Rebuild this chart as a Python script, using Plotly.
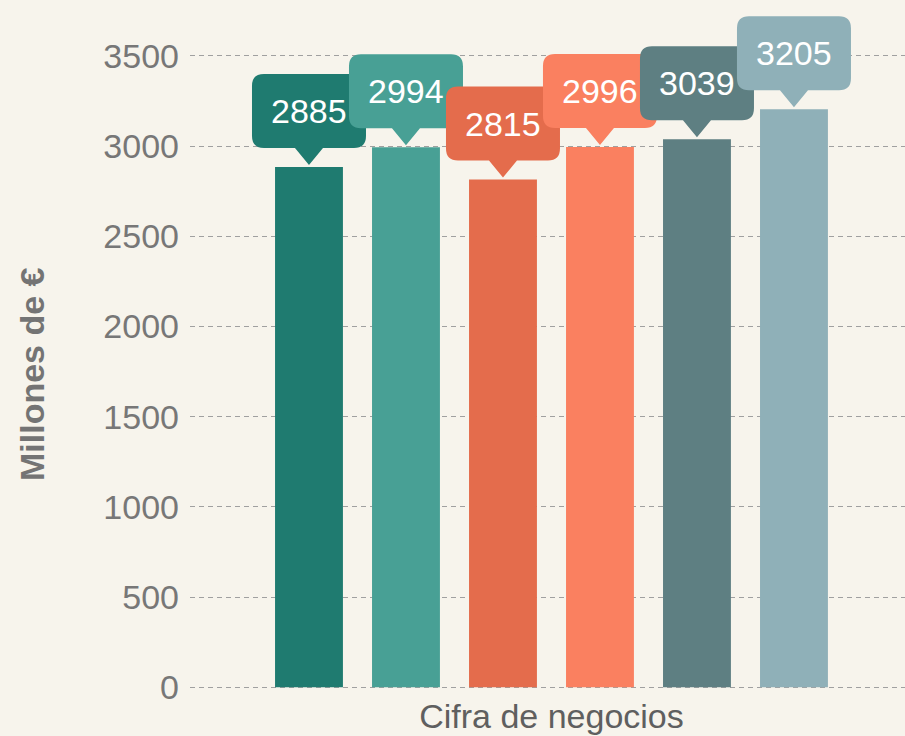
import plotly.graph_objects as go

# Turnover per period, in millions of euros
category = ["Cifra de negocios"]
values = [2885, 2994, 2815, 2996, 3039, 3205]
series_names = ["2885", "2994", "2815", "2996", "3039", "3205"]
colors = ["#1f7b70", "#48a095", "#e46c4c", "#fa8060", "#5e7f82", "#8fb0b8"]

BG = "#f7f4ec"
FONT = "Liberation Sans, Arial, sans-serif"
BARGAP = 0.195
BARGROUPGAP = 0.3

fig = go.Figure()
for name, v, c in zip(series_names, values, colors):
    fig.add_trace(go.Bar(x=category, y=[v], name=name, marker=dict(color=c, line=dict(width=0)),
                         hoverinfo="y"))

# Callout bubbles above each bar (pixel-sized path anchored at the bar top)
n = len(values)
slot = (1 - BARGAP) / n
W, H, R, PH, PW, LIFT = 114, 74, 12, 17, 14, 2
base = LIFT + PH
top = base + H
hw = W / 2
path = (
    f"M0,{LIFT} L{PW},{base} L{hw - R},{base} Q{hw},{base} {hw},{base + R} "
    f"L{hw},{top - R} Q{hw},{top} {hw - R},{top} L{-hw + R},{top} "
    f"Q{-hw},{top} {-hw},{top - R} L{-hw},{base + R} Q{-hw},{base} {-hw + R},{base} "
    f"L{-PW},{base} Z"
)
shapes = []
annotations = []
for i, (v, c) in enumerate(zip(values, colors)):
    xc = -(1 - BARGAP) / 2 + slot * (i + 0.5)
    shapes.append(dict(type="path", xref="x", yref="y", xsizemode="pixel", ysizemode="pixel",
                       xanchor=xc, yanchor=v, path=path, fillcolor=c,
                       line=dict(width=0), layer="above"))
    annotations.append(dict(x=xc, y=v, xref="x", yref="y", text=str(v), showarrow=False,
                            yshift=base + H / 2, font=dict(family=FONT, size=34, color="white")))

plot_left, plot_right = 190, 905
plot_top, plot_bottom = 10, 690

# Vertical axis title
annotations.append(dict(x=(32 - plot_left) / (plot_right - plot_left),
                        y=(plot_bottom - 374) / (plot_bottom - plot_top),
                        xref="paper", yref="paper", text="<b>Millones de €</b>",
                        showarrow=False, textangle=-90, xanchor="center", yanchor="middle",
                        font=dict(family=FONT, size=34, color="#747474")))

fig.update_layout(
    width=905, height=736,
    margin=dict(l=plot_left, r=905 - plot_right, t=plot_top, b=736 - plot_bottom),
    paper_bgcolor=BG, plot_bgcolor=BG,
    barmode="group", bargap=BARGAP, bargroupgap=BARGROUPGAP,
    showlegend=False,
    shapes=shapes, annotations=annotations,
    font=dict(family=FONT, color="#6b6b6b"),
)
fig.update_xaxes(type="category", range=[-0.5, 0.489], showgrid=False, showline=False,
                 ticks="", tickfont=dict(size=34, color="#5f5f5f"), ticklabelstandoff=3,
                 fixedrange=True)
fig.update_yaxes(range=[-15, 3755], tick0=0, dtick=500, showgrid=True, gridcolor="#a0a0a0",
                 gridwidth=1, griddash="5px,4px", zeroline=False, showline=False,
                 tickfont=dict(size=34, color="#777777"), ticklabelstandoff=10, fixedrange=True)

fig.write_html("out.html")
